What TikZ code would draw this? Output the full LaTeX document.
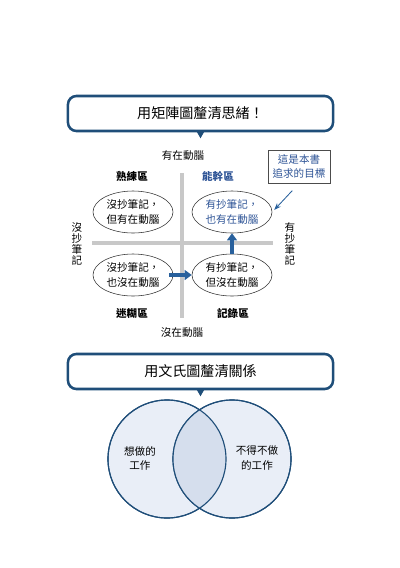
\documentclass[tikz,border=0pt]{standalone}
\usepackage{fontspec}
\setmainfont{Noto Sans CJK TC}
\definecolor{NoteBlue}{RGB}{31,78,121}
\definecolor{NoteText}{RGB}{46,84,150}
\definecolor{NoteArrow}{RGB}{40,96,156}
\definecolor{NoteGray}{RGB}{200,200,200}
\definecolor{NoteFill}{RGB}{233,238,247}
\definecolor{NoteOverlap}{RGB}{213,222,237}
\usetikzlibrary{positioning, shapes, arrows.meta, calc}

\begin{document}
\begin{tikzpicture}[x=0.025cm, y=-0.025cm,
  titlebox/.style={rectangle, rounded corners=6pt, draw=NoteBlue, line width=1.8pt, fill=white, minimum width=6.625cm, minimum height=0.875cm, font=\fontsize{10}{12}\selectfont},
  quad/.style={ellipse, draw=black!80, thin, minimum width=2cm, minimum height=1.05cm, inner sep=0pt, align=center, font=\fontsize{7.5}{10}\selectfont},
  lab/.style={font=\fontsize{7.5}{10}\selectfont},
  zone/.style={font=\fontsize{7.5}{10}\selectfont\bfseries},
  side/.style={font=\fontsize{7.5}{7.9}\selectfont, align=center},
  venn/.style={circle, draw=NoteBlue, thick, minimum size=2.95cm, inner sep=0pt},
  bigarrow/.style={-{Triangle[length=5pt, width=7pt]}, line width=2.4pt, NoteArrow},
  thinarrow/.style={-{Stealth[length=5pt]}, semithick, NoteArrow}
]
\useasboundingbox (0,0) rectangle (400,568);

% Matrix (top)
\node[titlebox] (title1) at (200.5,113.5) {用矩陣圖釐清思緒！};
\fill[NoteBlue] ($(title1.south)+(-4,-1)$) -- ($(title1.south)+(4,-1)$) -- ($(title1.south)+(0,6)$) -- cycle;

\draw[NoteGray, line width=2.2pt] (182,173) -- (182,318);
\draw[NoteGray, line width=2.2pt] (92,243) -- (273,243);

\node[lab] (think) at (183,156) {有在動腦};
\node[lab] (nothink) at (182,333) {沒在動腦};
\node[side] (nonote) at (77,244) {沒\\抄\\筆\\記};
\node[side] (note) at (290,244) {有\\抄\\筆\\記};

\node[zone] (skilled) at (132,176) {熟練區};
\node[zone, NoteText] (capable) at (218,176) {能幹區};
\node[zone] (confused) at (132,313) {迷糊區};
\node[zone] (record) at (233,313) {記錄區};

\node[quad] (tl) at (133,212) {沒抄筆記，\\但有在動腦};
\node[quad, text=NoteText] (tr) at (232,212) {有抄筆記，\\也有在動腦};
\node[quad] (bl) at (133,275) {沒抄筆記，\\也沒在動腦};
\node[quad] (br) at (232,275) {有抄筆記，\\但沒在動腦};

\draw[bigarrow] ([xshift=-3]bl.east) -- (br.west);
\draw[bigarrow] (br.north) -- (tr.south);

\node[rectangle, draw=black!70, semithick, align=center, text=NoteText, font=\fontsize{7.5}{10}\selectfont, minimum width=1.55cm, minimum height=0.825cm, inner sep=1pt] (goal) at (299,166.5) {這是本書\\追求的目標};
\draw[thinarrow, shorten <=7pt, shorten >=2pt] (goal.south) -- (tr.east);

% Venn (bottom)
\node[titlebox] (title2) at (200.5,371.5) {用文氏圖釐清關係};
\fill[NoteBlue] ($(title2.south)+(-4,-1)$) -- ($(title2.south)+(4,-1)$) -- ($(title2.south)+(0,6)$) -- cycle;

\node[venn, fill=NoteFill] (want) at (167,459) {};
\node[venn, fill=NoteFill] (must) at (232,459) {};
\begin{scope}
  \clip (want.center) circle[radius=59];
  \fill[NoteOverlap] (must.center) circle[radius=59];
\end{scope}
\draw[NoteBlue, thick] (want.center) circle[radius=59];
\draw[NoteBlue, thick] (must.center) circle[radius=59];

\node[lab, align=center] (wanttext) at (140,458) {想做的\\工作};
\node[lab, align=center] (musttext) at (257,458) {不得不做\\的工作};
\end{tikzpicture}
\end{document}
